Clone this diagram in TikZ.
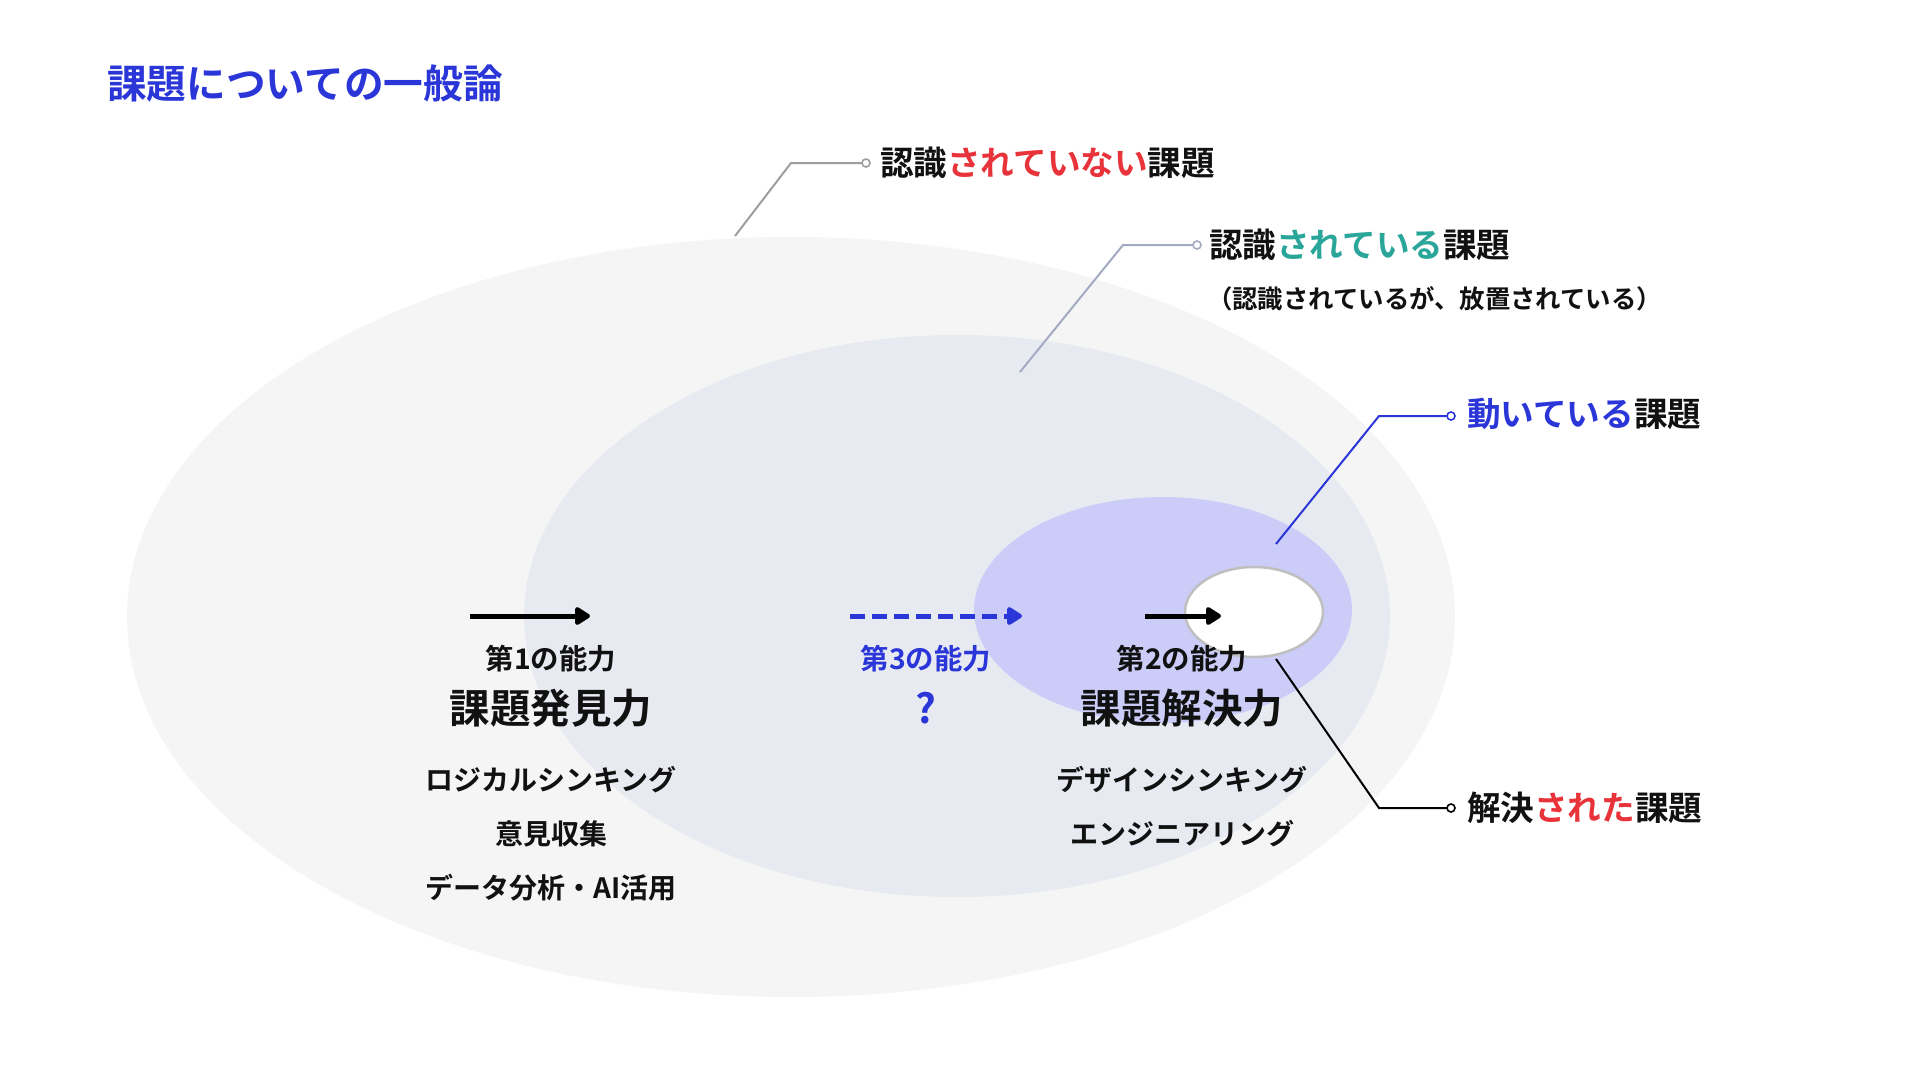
\documentclass[tikz,border=0pt]{standalone}
\usepackage{fontspec}
\setmainfont{Noto Sans CJK JP}[BoldFont={Noto Sans CJK JP Bold}]
\usetikzlibrary{arrows.meta}
\definecolor{bluet}{HTML}{2B36D9}
\definecolor{redt}{HTML}{E8333A}
\definecolor{tealt}{HTML}{2AA59A}
\definecolor{outerfill}{HTML}{F5F5F5}
\definecolor{midfill}{HTML}{E8EAF2}
\definecolor{purfill}{HTML}{CBCDF8}
\definecolor{graylead}{HTML}{9E9E9E}
\definecolor{bluegraylead}{HTML}{A3ABC3}
\definecolor{textblack}{HTML}{111111}
\tikzset{
  every node/.style={inner sep=0pt, outer sep=0pt, text=textblack},
  lbl/.style={font=\fontsize{33.6}{40}\selectfont\bfseries, anchor=west},
  sub/.style={font=\fontsize{25.4}{30}\selectfont\bfseries, anchor=west},
  abil/.style={font=\fontsize{28.4}{34}\selectfont\bfseries},
  big/.style={font=\fontsize{40.5}{46}\selectfont\bfseries},
  item/.style={font=\fontsize{28}{34}\selectfont\bfseries},
  enddot/.style={circle, minimum size=8pt, draw=#1, fill=white, line width=1.6pt},
  lead/.style={draw=#1, line width=2pt},
  bigarrow/.style={line width=5pt, -{Triangle[length=17pt,width=20pt,round]}},
}
\begin{document}
\begin{tikzpicture}[x=1pt,y=-1pt]
\useasboundingbox[fill=white] (0,0) rectangle (1920,1080);
% ellipses
\fill[outerfill] (791,617) ellipse [x radius=664pt, y radius=380pt];
\fill[midfill] (957,616) ellipse [x radius=433pt, y radius=281pt];
\fill[purfill] (1163,610) ellipse [x radius=189pt, y radius=113pt];
\filldraw[fill=white, draw=black!25, line width=2.5pt] (1254,612) ellipse [x radius=69pt, y radius=45pt];

% title
\node[anchor=west, text=bluet, font=\fontsize{39.7}{46}\selectfont\bfseries] (title) at (107,84) {課題についての一般論};

% leader 1
\coordinate (s1) at (735,236);
\coordinate (k1) at (791,163);
\node[enddot=graylead] (d1) at (866,163) {};
\node[lbl] (t1) at (880,163) {認識\textcolor{redt}{されていない}課題};
\draw[lead=graylead] (s1) -- (k1) -- (d1);

% leader 2
\coordinate (s2) at (1020,372);
\coordinate (k2) at (1123,245);
\node[enddot=bluegraylead] (d2) at (1197,245) {};
\node[lbl] (t2) at (1209,245) {認識\textcolor{tealt}{されている}課題};
\node[sub] (t2b) at (1207,299) {（認識されているが、放置されている）};
\draw[lead=bluegraylead] (s2) -- (k2) -- (d2);

% leader 3
\coordinate (s3) at (1276,544);
\coordinate (k3) at (1379,416);
\node[enddot=bluet] (d3) at (1451,416) {};
\node[lbl] (t3) at (1467,414) {\textcolor{bluet}{動いている}課題};
\draw[lead=bluet] (s3) -- (k3) -- (d3);

% leader 4
\coordinate (s4) at (1276,659);
\coordinate (k4) at (1379,808);
\node[enddot=black] (d4) at (1451,808) {};
\node[lbl] (t4) at (1467,808) {解決\textcolor{redt}{された}課題};
\draw[lead=black] (s4) -- (k4) -- (d4);

% arrows
\coordinate (a1s) at (470,616);
\coordinate (a1e) at (590,616);
\draw[bigarrow, black] (a1s) -- (a1e);
\coordinate (a3s) at (850,616);
\coordinate (a3e) at (1022,616);
\draw[bigarrow, bluet, dash pattern=on 15pt off 7pt] (a3s) -- (a3e);
\coordinate (a2s) at (1145,616);
\coordinate (a2e) at (1221,616);
\draw[bigarrow, black] (a2s) -- (a2e);

% column 1
\node[abil] (c1a) at (551,659) {第1の能力};
\node[big] (c1b) at (551,708) {課題発見力};
\node[item] (c1c) at (551,780) {ロジカルシンキング};
\node[item] (c1d) at (551,834) {意見収集};
\node[item] (c1e) at (551,888) {データ分析・AI活用};

% column 3
\node[abil, text=bluet] (c3a) at (926,659) {第3の能力};
\node[big, text=bluet] (c3b) at (926,708) {?};

% column 2
\node[abil] (c2a) at (1182,659) {第2の能力};
\node[big] (c2b) at (1182,708) {課題解決力};
\node[item] (c2c) at (1182,780) {デザインシンキング};
\node[item] (c2d) at (1182,834) {エンジニアリング};
\end{tikzpicture}
\end{document}
